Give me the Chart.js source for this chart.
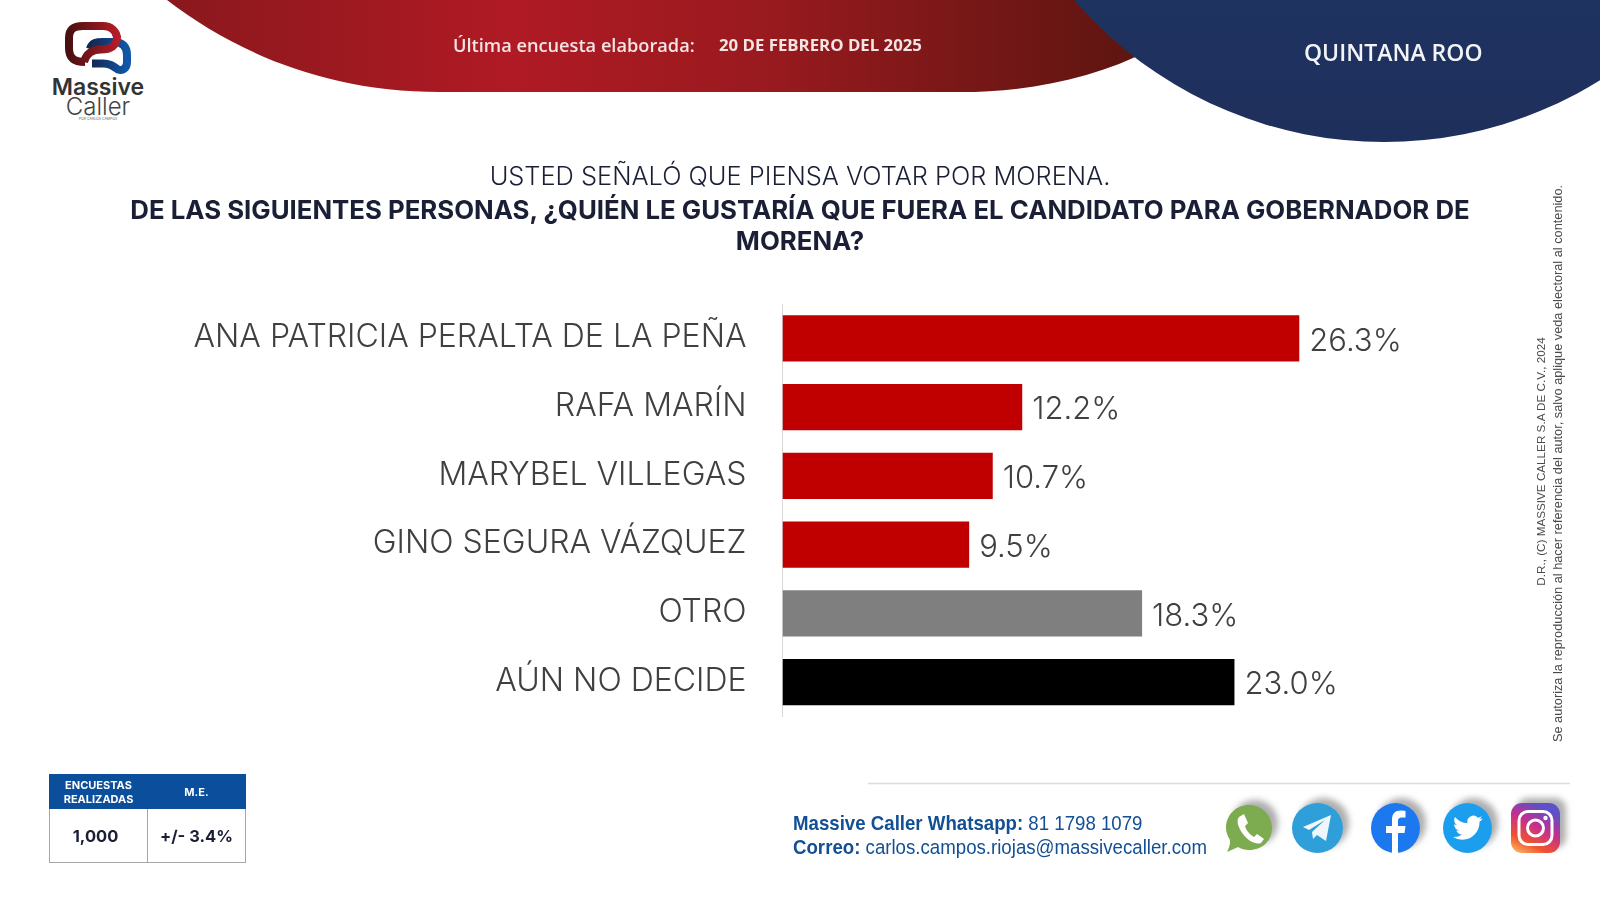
<!DOCTYPE html>
<html lang="es">
<head>
<meta charset="utf-8">
<title>Quintana Roo - Massive Caller</title>
<script src="https://cdn.jsdelivr.net/npm/chart.js@4/dist/chart.umd.min.js"></script>
<style>
    html, body { margin: 0; padding: 0; background: #fff; }
    #page { position: relative; width: 1600px; height: 900px; overflow: hidden; font-family: Inter, sans-serif; }
    #page > svg, #page > canvas { position: absolute; left: 0; top: 0; }
    .txt { position: absolute; white-space: nowrap; }
    .center { left: 0; width: 1600px; text-align: center; color: #1a1f36; }
    .side { left: 1200px; width: 700px; text-align: center; font-family: "Liberation Sans", sans-serif; color: #4a4a4a; transform-origin: center; }
    table { position: absolute; left: 49px; top: 774px; width: 197px; height: 89px; border-collapse: collapse; table-layout: fixed; font-family: Inter, sans-serif; }
    th { background: #0b4f9c; color: #fff; font-size: 11px; line-height: 14px; font-weight: 700; height: 33px; padding: 0; border: 1px solid #0b4f9c; }
    td { font-size: 16.5px; font-weight: 700; color: #1a1f36; text-align: center; padding: 0; border: 1.5px solid #a6a6a6; }
    .contact { left: 793px; color: #124f95; font-family: "Liberation Sans", sans-serif; font-size: 20.5px; transform: scaleX(0.91); transform-origin: left center; }
</style>
</head>
<body>
<div id="page">
    <svg width="1600" height="900" viewBox="0 0 1600 900">
        <defs>
            <linearGradient id="redBand" x1="0" x2="1" y1="0" y2="0">
                <stop offset="0" stop-color="#8a181d"/>
                <stop offset="0.35" stop-color="#b01a24"/>
                <stop offset="0.6" stop-color="#9a1a1f"/>
                <stop offset="1" stop-color="#5b1510"/>
            </linearGradient>
            <linearGradient id="blueCap" x1="0" x2="0" y1="0" y2="1">
                <stop offset="0.6" stop-color="#1e3765"/>
                <stop offset="1" stop-color="#1f2f5c"/>
            </linearGradient>
            <linearGradient id="logoRed" x1="0" x2="1" y1="0" y2="0">
                <stop offset="0" stop-color="#4a1010"/>
                <stop offset="1" stop-color="#b31c28"/>
            </linearGradient>
            <linearGradient id="logoBlue" x1="0" x2="1" y1="0" y2="0">
                <stop offset="0" stop-color="#14264f"/>
                <stop offset="1" stop-color="#0f58a8"/>
            </linearGradient>
            <linearGradient id="insta" x1="0" x2="0.5" y1="1" y2="0">
                <stop offset="0" stop-color="#fdc468"/>
                <stop offset="0.3" stop-color="#f0532f"/>
                <stop offset="0.65" stop-color="#c42e8f"/>
                <stop offset="1" stop-color="#5b51c8"/>
            </linearGradient>
            <filter id="iconShadow" x="-30%" y="-30%" width="170%" height="170%">
                <feDropShadow dx="6" dy="-5" stdDeviation="3" flood-color="#8c8c8c" flood-opacity="0.7"/>
            </filter>
        </defs>

        <!-- header bands -->
        <path d="M167 0 C235 52 325 92 440 92 L960 92 C1030 92 1095 78 1150 50 L1150 0 Z" fill="url(#redBand)"/>
        <circle cx="1384" cy="-267" r="409" fill="url(#blueCap)"/>

        <!-- logo -->
        <g fill="none" stroke-width="8">
            <path d="M90 49 C92 42.500 97 42 103 42 L114 42 C123 42 127 47 127 55 L127 62 C127 68 123 71 118 69.500 C113 66 110 63.500 103 63.500 L92 63.500" stroke="url(#logoBlue)"/>
            <path d="M85 62 C72 62 69 56 69 48 L69 38 C69 29 74 26 83 26 L103 26 C111 26 116 31 117 37 C117 46 110 49.500 101 49.500 C92 49.500 86 54 84 62" stroke="url(#logoRed)"/>
        </g>
        <text x="98" y="95" text-anchor="middle" font-family="Inter" font-weight="600" font-size="23" fill="#333">Massive</text>
        <text x="98" y="115" text-anchor="middle" font-family="Inter" font-weight="300" font-size="24" fill="#444">Caller</text>
        <text x="98" y="120" text-anchor="middle" font-family="Inter" font-size="3.500" fill="#666">POR CARLOS CAMPOS</text>

        <!-- footer rule -->
        <line x1="868" x2="1570" y1="783.500" y2="783.500" stroke="#dcdcdc" stroke-width="1.500"/>

        <!-- social icons -->
        <g filter="url(#iconShadow)" transform="translate(1226 804)">
            <path d="M23 1 C36 1 46 11 46 24 C46 37 36 46 23 46 C19 46 15 45 12 43 L1 48 C3 44 4.500 40 4 36 C1.500 32 0 28 0 24 C0 11 10 1 23 1 Z" fill="#7dab50"/>
            <path d="M13 13 L18 10 L22 19 L19 22 C20 26 24 31 28 33 L31 30 L38 35 L35 39 C30 41 22 37 17 30 C12 23 10 17 13 13 Z" fill="#fff"/>
        </g>
        <g filter="url(#iconShadow)" transform="translate(1292 803)">
            <ellipse cx="25.500" cy="25" rx="25.500" ry="25" fill="#2f9fd9"/>
            <path d="M11 24 L39 12 L34 38 L25 32 L21 36 L20 29 L33 17 L17 27 Z" fill="#eef7fb"/>
        </g>
        <g filter="url(#iconShadow)" transform="translate(1371 803)">
            <ellipse cx="24.500" cy="25" rx="24.500" ry="25" fill="#1c78ee"/>
            <path d="M27 50 V30 h6.500 l1-7 h-7.500 v-5 c0-2 1-3.500 3.500-3.500 h4 V8 c-1-.2-3-.4-5-.4 c-5 0-8.500 3-8.500 9 V23 h-6 v7 h6 v20 z" fill="#fff"/>
        </g>
        <g filter="url(#iconShadow)" transform="translate(1443 803)">
            <ellipse cx="24.500" cy="25" rx="24.500" ry="25" fill="#1f9eee"/>
            <path transform="translate(10 10) scale(1.230)" d="M23.953 4.57a10 10 0 01-2.825.775 4.958 4.958 0 002.163-2.723c-.951.555-2.005.959-3.127 1.184a4.92 4.92 0 00-8.384 4.482C7.69 8.095 4.067 6.13 1.64 3.162a4.822 4.822 0 00-.666 2.475c0 1.71.87 3.213 2.188 4.096a4.904 4.904 0 01-2.228-.616v.06a4.923 4.923 0 003.946 4.827 4.996 4.996 0 01-2.212.085 4.936 4.936 0 004.604 3.417 9.867 9.867 0 01-6.102 2.105c-.39 0-.779-.023-1.17-.067a13.995 13.995 0 007.557 2.209c9.053 0 13.998-7.496 13.998-13.985 0-.21 0-.42-.015-.63A9.935 9.935 0 0024 4.59z" fill="#fff"/>
        </g>
        <g filter="url(#iconShadow)" transform="translate(1511 803)">
            <rect width="49" height="50" rx="11" fill="url(#insta)"/>
            <rect x="8" y="8.500" width="33" height="33" rx="9" fill="none" stroke="#fff" stroke-width="3"/>
            <circle cx="24.500" cy="25" r="8" fill="none" stroke="#fff" stroke-width="3"/>
            <circle cx="34.500" cy="15" r="2.200" fill="#fff"/>
        </g>
    </svg>

    <canvas id="chart" width="1600" height="900"></canvas>

    <div class="txt" style="left:453px; top:33px; font-size:18.2px; font-family:'Open Sans',sans-serif; font-weight:600; color:#f4e4e4;">Última encuesta elaborada:</div>
    <div class="txt" style="left:719px; top:33px; font-size:16.8px; font-family:'Open Sans',sans-serif; font-weight:700; color:#f4e4e4;">20 DE FEBRERO DEL 2025</div>
    <div class="txt" style="left:1304px; top:36px; font-size:23px; font-family:'Open Sans',sans-serif; font-weight:600; color:#f2f4f8;">QUINTANA ROO</div>

    <div class="txt center" style="top:160px; font-size:25.4px; font-weight:300;">USTED SEÑALÓ QUE PIENSA VOTAR POR MORENA.</div>
    <div class="txt center" style="top:194px; font-size:25.8px; font-weight:700;">DE LAS SIGUIENTES PERSONAS, ¿QUIÉN LE GUSTARÍA QUE FUERA EL CANDIDATO PARA GOBERNADOR DE</div>
    <div class="txt center" style="top:225px; font-size:25.8px; font-weight:700;">MORENA?</div>

    <div class="txt side" style="top:455px; font-size:11.7px; transform:translate(-10px,0) rotate(-90deg);">D.R., (C) MASSIVE CALLER S.A DE C.V., 2024</div>
    <div class="txt side" style="top:456px; font-size:12.75px; transform:translate(7px,0) rotate(-90deg);">Se autoriza la reproducción al hacer referencia del autor, salvo aplique veda electoral al contenido.</div>

    <table>
        <tr><th>ENCUESTAS<br>REALIZADAS</th><th>M.E.</th></tr>
        <tr><td style="padding-right:6px;">1,000</td><td>+/- 3.4%</td></tr>
    </table>

    <div class="txt contact" style="top:811px;"><b>Massive Caller Whatsapp:</b> 81 1798 1079</div>
    <div class="txt contact" style="top:835px;"><b>Correo:</b> carlos.campos.riojas@massivecaller.com</div>
</div>

<script>
// Values
const candidates = ["ANA PATRICIA PERALTA DE LA PEÑA", "RAFA MARÍN", "MARYBEL VILLEGAS", "GINO SEGURA VÁZQUEZ", "OTRO", "AÚN NO DECIDE"];
const percentages = [26.3, 12.2, 10.7, 9.5, 18.3, 23.0];
const barColors = ["#c00000", "#c00000", "#c00000", "#c00000", "#7f7f7f", "#000000"];

// Writes the percentage just right of each bar.
const valueLabels = {
    id: "valueLabels",
    afterDatasetsDraw(chart) {
        let ctx = chart.ctx;
        let meta = chart.getDatasetMeta(0);
        ctx.save();
        ctx.font = "300 31px Inter, sans-serif";
        ctx.fillStyle = "#404040";
        ctx.textAlign = "left";
        ctx.textBaseline = "middle";
        meta.data.forEach((bar, i) => {
            ctx.fillText(percentages[i].toFixed(1) + "%", bar.x + 10, bar.y + 3);
        });
        ctx.restore();
    }
};

new Chart(document.getElementById("chart").getContext("2d"), {
    type: "bar",
    data: {
        labels: candidates,
        datasets: [{
            data: percentages,
            backgroundColor: barColors,
            barPercentage: 0.67,
            categoryPercentage: 1
        }]
    },
    options: {
        indexAxis: "y",
        responsive: false,
        animation: false,
        layout: {
            padding: { top: 304, bottom: 183.5, left: 0, right: 31.5 }
        },
        plugins: {
            legend: { display: false },
            tooltip: { enabled: false }
        },
        scales: {
            x: {
                display: false,
                min: 0,
                max: 40
            },
            y: {
                afterFit: (scale) => { scale.width = 782.5; },
                grid: { display: false },
                border: { display: true, color: "#d9d9d9", width: 1 },
                ticks: {
                    padding: 28,
                    labelOffset: -1,
                    color: "#404040",
                    font: { family: "Inter, sans-serif", size: 32, weight: 300 }
                }
            }
        }
    },
    plugins: [valueLabels]
});
</script>
</body>
</html>
